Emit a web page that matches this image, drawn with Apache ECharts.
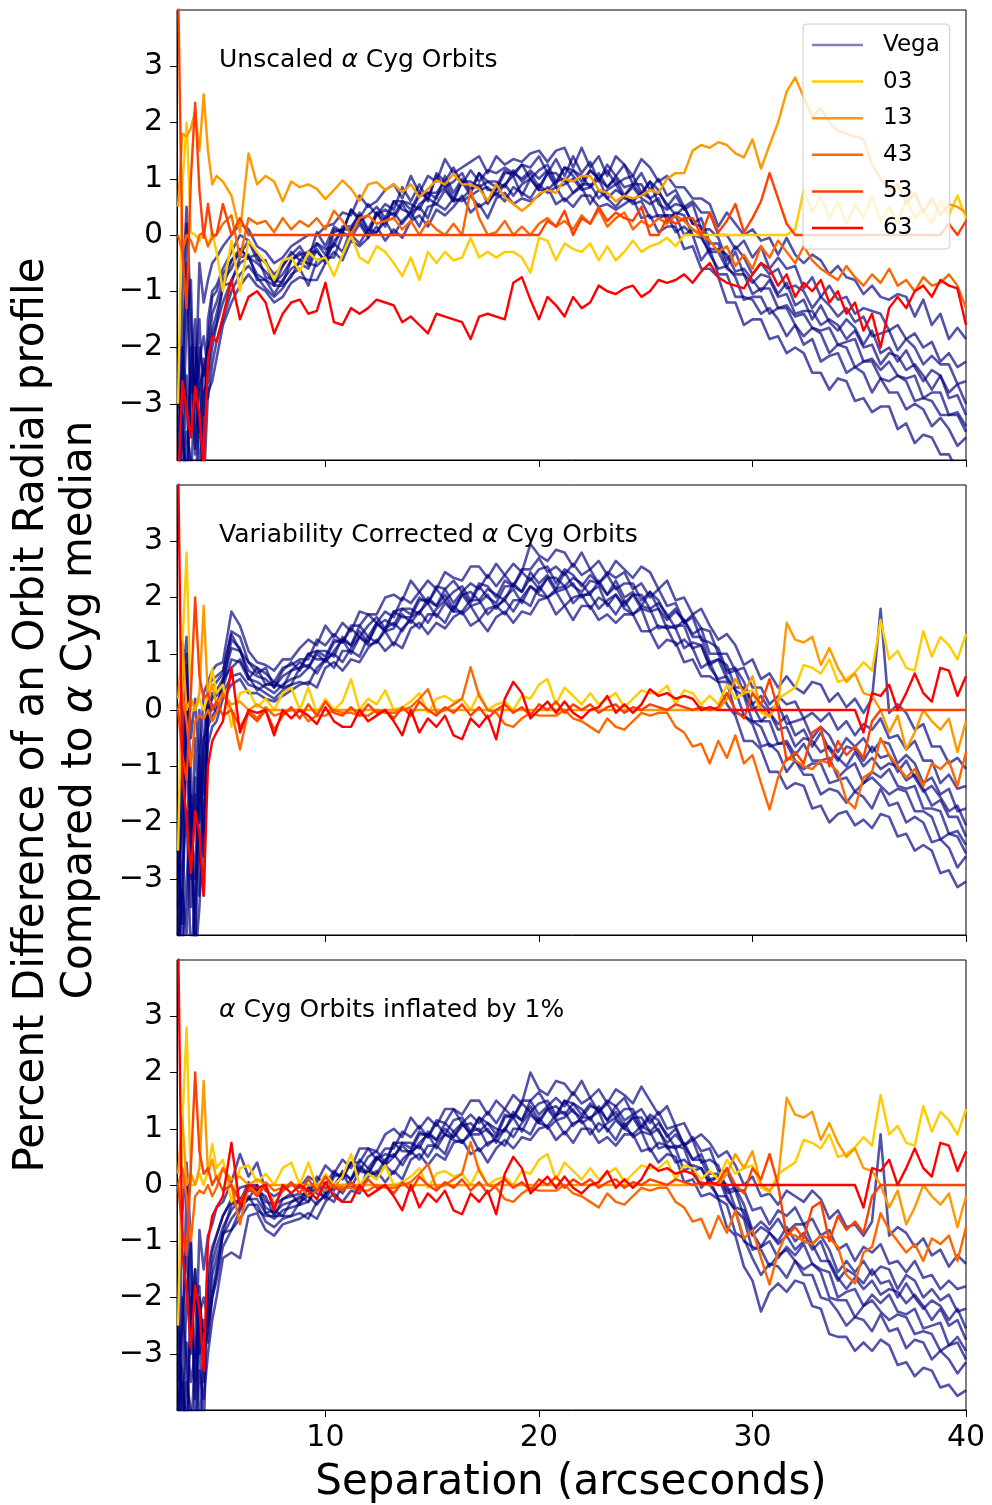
<!DOCTYPE html>
<html><head><meta charset="utf-8">
<script src="https://cdn.jsdelivr.net/npm/echarts@6/dist/echarts.min.js"></script>
<style>html,body{margin:0;padding:0;background:#fff}#c{width:992px;height:1505px}</style>
</head><body><div id="c"></div>
<script>
// ---------------- DATA ----------------
const SEP = [3.1,3.3,3.5,3.7,3.9,4.1,4.3,4.5,4.7,4.9,
5.2,5.6,6.0,6.4,6.8,7.2,7.6,8.0,8.4,8.8,
9.2,9.6,10.0,10.4,10.8,11.2,11.6,12.0,12.4,12.8,
13.2,13.6,14.0,14.4,14.8,15.2,15.6,16.0,16.4,16.8,
17.2,17.6,18.0,18.4,18.8,19.2,19.6,20.0,20.4,20.8,
21.2,21.6,22.0,22.4,22.8,23.2,23.6,24.0,24.4,24.8,
25.2,25.6,26.0,26.4,26.8,27.2,27.6,28.0,28.4,28.8,
29.2,29.6,30.0,30.4,30.8,31.2,31.6,32.0,32.4,32.8,
33.2,33.6,34.0,34.4,34.8,35.2,35.6,36.0,36.4,36.8,
37.2,37.6,38.0,38.4,38.8,39.2,39.6,40.0];

const X_TICKS = [10,20,30,40];
const Y_TICKS = [-3,-2,-1,0,1,2,3];
const LEGEND_NAMES = ['Vega','03','13','43','53','63'];
const PANEL_TITLES = [['Unscaled ','α',' Cyg Orbits'],['Variability Corrected ','α',' Cyg Orbits'],['','α',' Cyg Orbits inflated by 1%']];

// Panel 1 (Unscaled) Vega orbits
const P1_VEGA_A = [-4.5,-1.0,0.5,-1.5,-3.0,-0.5,-1.2,-0.8,-0.5,-0.4,
-0.2,0.0,0.2,0.1,-0.2,-0.3,-0.5,-0.4,-0.2,-0.1,
0.0,0.0,0.15,0.2,0.4,0.35,0.7,0.5,0.6,0.8,
0.9,0.65,1.05,0.75,1.05,0.95,1.35,1.1,1.2,1.3,
1.4,1.1,1.4,1.25,1.35,1.3,1.45,1.5,1.3,1.5,
1.55,1.2,1.55,1.2,1.4,1.05,1.4,1.25,1.05,1.35,
1.2,0.95,1.05,0.85,0.85,0.65,0.65,0.55,0.15,0.4,
0.2,0.0,0.1,-0.1,-0.05,-0.35,-0.05,-0.35,-0.5,-0.35,
-0.45,-0.7,-0.55,-0.75,-0.8,-1.05,-0.9,-1.1,-1.15,-1.05,
-1.1,-1.45,-1.15,-1.6,-1.4,-1.85,-1.65,-1.85];
const P1_VEGA_B = [-3.5,-2.5,-0.5,-3.5,-2.0,-2.5,-3.8,-1.5,-1.0,-0.9,
-0.6,-0.3,0.0,-0.1,-0.35,-0.5,-0.7,-0.55,-0.35,-0.2,
-0.45,0.05,-0.2,0.15,0.05,0.45,0.3,0.55,0.35,0.55,
0.45,0.85,0.6,0.9,0.6,1.1,0.95,1.2,0.9,1.15,
0.95,1.15,1.1,1.2,1.1,1.25,1.2,1.4,1.1,1.35,
1.05,1.4,1.1,1.3,0.95,1.25,1.05,1.25,0.9,1.1,
0.8,1.0,0.7,0.8,0.5,0.6,0.4,0.4,0.0,0.0,
-0.25,-0.1,-0.4,-0.2,-0.6,-0.4,-0.6,-0.55,-0.95,-0.75,
-1.1,-0.9,-1.15,-1.1,-1.4,-1.3,-1.35,-1.4,-1.7,-1.6,
-1.85,-1.75,-2.0,-1.9,-2.25,-2.1,-2.35,-2.25];
const P1_VEGA_C = [-2.5,-3.8,-1.5,-0.8,-3.9,-2.0,-2.5,-2.2,-1.4,-1.2,
-0.8,-0.6,-0.25,-0.4,-0.5,-0.65,-0.85,-0.7,-0.45,-0.35,
-0.3,-0.3,-0.45,0.05,0.1,0.1,0.4,0.1,0.4,0.15,
0.6,0.45,0.4,0.7,0.75,0.65,1.05,0.75,1.0,0.75,
1.1,0.8,0.8,1.1,1.1,1.0,1.15,1.0,1.15,0.9,
1.2,1.05,0.85,1.15,1.0,0.85,1.05,0.85,0.9,0.7,
0.95,0.55,0.45,0.55,0.5,0.2,0.3,-0.15,-0.15,-0.55,
-0.3,-0.7,-0.85,-0.7,-0.75,-1.05,-0.85,-1.25,-1.15,-1.5,
-1.25,-1.55,-1.7,-1.5,-1.65,-1.95,-1.7,-2.1,-2.0,-2.25,
-2.05,-2.35,-2.6,-2.4,-2.5,-2.8,-2.65,-3.0];
const P1_VEGA_D = [-3.0,-3.2,-4.5,-2.5,-1.5,-4.5,-2.8,-2.6,-2.0,-1.6,
-1.2,-0.8,-0.5,-0.4,-0.7,-0.8,-1.05,-0.8,-0.6,-0.5,
-0.6,-0.25,-0.5,-0.1,0.05,-0.05,0.2,-0.05,0.4,0.25,
0.3,0.55,0.3,0.55,0.65,0.55,0.8,0.6,0.95,0.7,
0.8,0.85,0.7,0.9,1.05,0.7,1.0,0.8,1.1,0.85,
0.9,1.0,0.8,0.85,1.0,0.65,0.8,0.7,0.85,0.65,
0.55,0.65,0.25,0.4,0.35,0.0,-0.05,-0.3,-0.3,-0.6,
-0.7,-0.7,-1.05,-0.95,-0.95,-1.3,-1.25,-1.45,-1.4,-1.65,
-1.7,-1.65,-1.95,-1.9,-1.85,-2.25,-2.2,-2.4,-2.25,-2.5,
-2.55,-2.5,-2.9,-2.8,-2.8,-3.2,-3.15,-3.4];
const P1_VEGA_E = [-4.5,-2.0,-3.0,-4.5,-2.5,-3.5,-2.2,-2.9,-2.3,-1.9,
-1.5,-1.0,-0.7,-0.55,-0.75,-0.95,-1.1,-0.95,-0.7,-0.6,
-0.9,-0.45,-0.4,-0.4,0.0,0.0,-0.15,0.1,0.05,0.25,
0.0,0.25,0.4,0.15,0.5,0.55,0.45,0.65,0.6,0.7,
0.5,0.6,0.75,0.6,0.85,0.75,0.65,0.9,0.75,0.85,
0.6,0.75,0.85,0.55,0.8,0.65,0.5,0.7,0.55,0.6,
0.3,0.35,0.35,0.05,0.15,0.0,-0.45,-0.25,-0.7,-0.7,
-1.1,-1.1,-1.15,-1.4,-1.3,-1.5,-1.8,-1.6,-1.95,-1.85,
-2.25,-2.15,-2.1,-2.45,-2.35,-2.45,-2.8,-2.55,-2.8,-2.8,
-3.1,-3.0,-3.1,-3.4,-3.25,-3.45,-3.75,-3.6];
const P1_VEGA_F = [-4.5,-4.5,-3.5,-4.0,-4.5,-3.2,-4.5,-2.8,-2.6,-2.2,
-1.6,-1.2,-0.9,-0.7,-0.9,-1.0,-1.2,-1.1,-0.85,-0.75,
-0.8,-0.8,-0.5,-0.3,-0.45,-0.1,-0.2,-0.05,0.15,-0.1,
0.1,-0.05,0.25,0.35,0.15,0.45,0.35,0.5,0.7,0.4,
0.55,0.3,0.65,0.75,0.55,0.65,0.6,0.7,0.85,0.55,
0.65,0.5,0.7,0.7,0.5,0.55,0.45,0.55,0.65,0.3,
0.35,0.05,0.15,0.15,-0.25,-0.2,-0.6,-0.6,-0.75,-1.2,
-1.2,-1.6,-1.5,-1.5,-1.85,-1.8,-2.1,-2.0,-2.1,-2.45,
-2.45,-2.75,-2.55,-2.6,-2.95,-2.9,-3.15,-3.05,-3.05,-3.45,
-3.35,-3.7,-3.55,-3.6,-3.9,-3.9,-4.2,-4.1];
const P1_VEGA_G = [-4.0,-3.0,0.2,-2.8,-2.6,-1.5,-3.2,-1.9,-1.1,-1.0,
-0.7,-0.45,-0.35,-0.1,-0.45,-0.45,-0.9,-0.55,-0.3,-0.45,
-0.3,-0.15,-0.35,0.1,0.05,0.45,0.25,0.35,0.5,0.3,
0.6,0.6,0.45,0.75,0.65,1.05,0.85,0.95,1.1,0.8,
1.1,0.95,0.85,1.15,1.05,1.25,1.0,1.15,1.25,0.95,
1.2,1.15,0.95,1.15,1.0,1.15,0.9,1.0,1.05,0.75,
0.95,0.8,0.5,0.7,0.45,0.55,0.1,0.1,-0.05,-0.45,
-0.2,-0.4,-0.7,-0.5,-0.7,-0.6,-0.95,-0.9,-1.0,-1.3,
-1.1,-1.25,-1.45,-1.3,-1.55,-1.45,-1.8,-1.75,-1.7,-2.05,
-1.85,-2.0,-2.3,-2.15,-2.3,-2.3,-2.65,-2.6];
const P1_VEGA_H = [-2.0,-4.5,-2.5,-3.5,-3.0,-2.2,-1.8,-2.4,-1.7,-1.4,
-0.95,-0.45,-0.25,-0.4,-0.35,-0.75,-0.8,-0.85,-0.45,-0.3,
-0.55,-0.15,-0.25,-0.2,0.15,0.15,0.35,0.05,0.35,0.45,
0.35,0.6,0.55,0.45,0.75,0.75,0.95,0.65,0.95,0.95,
0.85,0.95,0.95,0.85,1.15,0.95,1.1,0.85,1.1,1.1,
0.95,1.15,1.05,0.85,1.1,0.85,1.0,0.7,0.9,0.9,
0.65,0.75,0.55,0.35,0.5,0.2,0.15,-0.25,-0.25,-0.35,
-0.65,-0.6,-0.8,-1.0,-0.8,-1.1,-1.05,-1.4,-1.35,-1.35,
-1.6,-1.5,-1.6,-1.85,-1.7,-2.0,-1.95,-2.3,-2.1,-2.15,
-2.4,-2.3,-2.5,-2.75,-2.5,-2.9,-2.85,-3.2];
const P1_VEGA_I = [-4.5,-3.5,-4.5,-2.0,-3.8,-2.7,-2.4,-2.0,-1.8,-1.6,
-0.9,-0.85,-0.4,-0.35,-0.8,-0.8,-0.9,-0.9,-0.75,-0.45,
-0.5,-0.55,-0.4,-0.15,-0.3,0.1,0.25,0.0,0.05,0.3,
0.4,0.2,0.4,0.5,0.3,0.7,0.85,0.6,0.65,0.8,
0.9,0.55,0.8,0.9,0.7,0.9,1.0,0.8,0.8,0.95,
1.0,0.75,0.9,0.9,0.65,0.8,0.9,0.65,0.6,0.75,
0.65,0.3,0.35,0.35,0.0,0.1,0.0,-0.35,-0.6,-0.55,
-0.75,-1.15,-1.1,-1.1,-1.4,-1.3,-1.3,-1.6,-1.8,-1.65,
-1.75,-2.1,-1.95,-2.0,-2.35,-2.25,-2.25,-2.55,-2.6,-2.5,
-2.6,-2.95,-2.9,-2.95,-3.2,-3.2,-3.2,-3.5];

// Panel 1 alpha Cyg orbits
const P1_S03 = [-3.0,0.9,2.0,0.05,0.0,-0.1,0.05,-0.2,0.05,-0.3,
-1.0,-0.1,-1.0,-0.1,-0.3,-0.5,-0.8,-0.45,-0.4,-0.65,
-0.3,-0.45,-0.4,-0.73,-0.35,0.0,-0.4,-0.5,-0.2,-0.3,
-0.5,-0.73,-0.4,-0.8,-0.3,-0.5,-0.3,-0.45,-0.4,-0.05,
-0.4,-0.3,-0.4,-0.3,-0.3,-0.4,-0.67,-0.05,-0.1,-0.45,
-0.15,-0.25,-0.3,-0.15,-0.45,-0.2,-0.45,-0.3,-0.1,-0.3,
-0.2,-0.15,-0.05,-0.2,0,0,0,0,0,0,
0,0,0,0,0,0,0,0.1,0.8,0.4,
0.7,0.3,0.6,0.2,0.55,0.3,0.7,0.25,0.5,0.2,
0.65,0.3,0.45,0.2,0.6,0.35,0.7,0.3];
const P1_S13 = [0.5,1.8,1.75,1.9,2.2,1.5,2.5,1.5,0.9,1.05,
0.95,0.7,0.05,1.45,0.9,1.05,0.95,0.6,0.95,0.85,
0.9,0.82,0.64,0.8,0.97,0.82,0.61,0.9,0.94,0.8,
0.9,0.76,0.9,0.67,0.82,0.97,0.9,1.09,0.9,0.9,
0.82,0.61,0.9,0.67,0.55,0.43,0.55,0.73,0.8,0.75,
1.0,0.95,1.05,1.05,0.8,0.75,0.6,0.7,0.65,0.7,
0.8,0.75,1.0,1.1,1.1,1.5,1.6,1.55,1.65,1.6,
1.45,1.38,1.7,1.18,1.6,2.0,2.55,2.8,2.45,2.1,
2.25,2.0,1.85,1.8,1.75,1.7,1.25,1.0,0.8,0.9,
0.55,0.75,0.4,0.65,0.35,0.55,0.5,0.4];
const P1_S43 = [0.0,-0.3,0.0,-0.1,-0.3,0.0,0.05,-0.2,-0.05,0.0,
0.2,0.35,-0.4,0.3,0.2,0.25,0.05,0.3,0.1,0.25,
0.15,0.3,0.1,0.43,0.25,0.0,0.3,0.35,0.2,0.25,
0.3,0.1,0.25,0.0,0.25,0.1,0.0,0.2,0.0,0.8,
0.3,0.0,0.05,0.25,0.0,0.15,0.0,0.2,0.3,0.15,
0.25,0.1,0.35,0.2,0.45,0.15,0.3,0.4,0.1,0.25,
0.15,0.3,0.2,0.35,0.25,0.1,0.0,-0.1,-0.3,-0.2,
-0.55,-0.35,-0.6,-0.2,-0.4,-0.1,-0.3,-0.5,-0.2,-0.45,
-0.6,-0.7,-0.8,-0.55,-0.75,-0.9,-0.7,-0.85,-0.6,-0.9,
-0.8,-1.0,-0.75,-0.9,-0.85,-0.7,-0.9,-1.3];
const P1_S53 = [4.5,-0.3,-1.3,1.0,2.35,0.8,-0.05,0.55,0.0,0.0,
0.55,0.0,0.3,0,0,0,0,0,0,0,
0,0,0,0,0,0,0,0,0,0,
0,0,0,0,0,0,0,0,0,0,
0,0,0,0,0,0,0,0,0.25,0.15,
0.43,0.0,0.3,0.2,0.5,0.25,0.4,0.3,0.25,0.5,
0.0,0.0,0.3,0.2,0.3,0.3,0.0,0.4,0.05,0.25,
0.55,0.05,0.3,0.6,1.1,0.65,0.2,0,0,0,
0,0,0,0,0,0,0,0,0,0,
0,0,0,0,0,0.2,0,0.25];
const P1_S63 = [-4.5,-2.6,-3.1,-3.6,-2.7,-3.2,-4.1,-2.2,-1.8,-1.9,
-1.45,-0.8,-1.5,-1.1,-1.0,-1.2,-1.75,-1.4,-1.2,-1.15,
-1.4,-1.35,-0.85,-1.55,-1.6,-1.3,-1.4,-1.3,-1.15,-1.2,
-1.25,-1.55,-1.45,-1.6,-1.75,-1.4,-1.45,-1.5,-1.55,-1.85,
-1.45,-1.4,-1.45,-1.5,-0.85,-0.75,-1.15,-1.5,-1.1,-1.25,
-1.45,-1.1,-1.3,-1.2,-0.9,-1.0,-1.05,-0.95,-0.9,-1.1,
-1.0,-0.8,-0.85,-0.8,-0.7,-0.85,-0.65,-0.5,-0.75,-0.85,
-0.9,-0.95,-0.7,-0.5,-0.6,-0.9,-0.7,-1.1,-0.85,-1.0,
-0.8,-1.2,-1.0,-1.4,-1.2,-1.7,-1.4,-2.0,-1.3,-1.1,
-1.3,-1.0,-0.9,-1.1,-0.8,-0.9,-0.95,-1.6];

// Panel 2 (Variability corrected) Vega orbits
const P2_VEGA_A = [-4.5,0.5,1.3,-0.5,0.2,-1.0,0.3,0.5,0.7,0.8,
0.85,1.75,1.5,1.05,0.85,0.8,0.7,0.9,0.9,1.1,
1.25,1.15,1.5,1.3,1.55,1.4,1.75,1.7,1.7,2.0,
2.05,1.95,2.3,2.1,2.3,2.15,2.45,2.35,2.3,2.55,
2.55,2.35,2.6,2.4,2.6,2.45,2.95,2.75,2.65,2.85,
2.8,2.55,2.8,2.5,2.65,2.4,2.65,2.5,2.35,2.55,
2.45,2.15,2.3,1.95,2.0,1.7,1.8,1.5,1.25,1.35,
1.15,0.8,0.9,0.55,0.65,0.4,0.6,0.4,0.3,0.5,
0.45,0.15,0.3,0.05,0.2,-0.05,0.2,1.8,-0.05,0.1,
-0.05,-0.35,-0.25,-0.65,-0.65,-0.95,-0.85,-1.05];
const P2_VEGA_B = [-3.5,-1.0,1.0,-2.5,-1.5,-3.3,-0.5,0.3,0.4,0.5,
0.65,1.4,1.3,0.85,0.75,0.65,0.5,0.75,0.8,0.9,
0.9,1.25,1.15,1.35,1.2,1.5,1.5,1.7,1.55,1.75,
1.65,2.0,1.9,2.1,1.9,2.2,2.15,2.3,2.1,2.25,
2.15,2.4,2.2,2.4,2.2,2.5,2.5,2.7,2.45,2.55,
2.4,2.6,2.4,2.5,2.25,2.45,2.35,2.45,2.15,2.25,
2.0,2.15,1.85,1.9,1.55,1.7,1.45,1.4,1.0,1.0,
0.7,0.75,0.4,0.4,0.1,0.25,0.1,0.15,-0.15,-0.05,
-0.2,-0.05,-0.35,-0.2,-0.45,-0.25,-0.35,-0.15,-0.5,-0.45,
-0.7,-0.55,-0.9,-0.9,-1.3,-1.15,-1.4,-1.35];
const P2_VEGA_C = [-2.5,-3.8,0.2,-1.0,-4.5,0.0,-1.5,0.0,0.2,0.35,
0.55,1.1,1.05,0.7,0.6,0.55,0.4,0.6,0.7,0.75,
1.0,0.9,0.9,1.2,1.25,1.15,1.5,1.3,1.55,1.4,
1.75,1.65,1.65,1.95,1.95,1.85,2.15,1.9,2.1,1.9,
2.2,2.0,1.9,2.2,2.2,2.1,2.45,2.25,2.4,2.15,
2.45,2.2,2.1,2.3,2.25,2.05,2.3,2.0,2.1,1.85,
2.1,1.8,1.6,1.75,1.6,1.35,1.45,1.0,1.0,0.65,
0.7,0.3,0.0,0.1,-0.05,-0.25,-0.1,-0.45,-0.35,-0.65,
-0.4,-0.7,-0.9,-0.65,-0.7,-0.9,-0.65,-0.85,-0.8,-1.1,
-0.9,-1.2,-1.45,-1.35,-1.55,-1.8,-1.7,-2.05];
const P2_VEGA_D = [-3.0,-2.0,-0.5,-3.5,-1.2,-2.5,-3.3,0.2,0.0,0.1,
0.4,0.9,0.85,0.55,0.5,0.4,0.3,0.45,0.55,0.6,
0.75,1.0,0.85,1.05,1.25,1.0,1.3,1.2,1.55,1.4,
1.45,1.7,1.55,1.75,1.9,1.65,1.9,1.75,2.05,1.85,
1.9,2.05,1.8,2.0,2.15,1.9,2.2,2.1,2.35,2.1,
2.15,2.25,2.0,2.1,2.2,1.85,2.05,1.85,2.05,1.8,
1.75,1.8,1.45,1.5,1.5,1.1,1.15,0.8,0.9,0.55,
0.35,0.25,-0.2,-0.2,-0.2,-0.6,-0.55,-0.8,-0.6,-0.9,
-0.9,-0.85,-1.2,-1.05,-0.95,-1.3,-1.1,-1.2,-1.05,-1.35,
-1.4,-1.35,-1.75,-1.75,-1.8,-2.2,-2.15,-2.4];
const P2_VEGA_E = [-4.5,-2.8,-1.8,-4.5,-3.3,-1.5,-0.5,-0.3,-0.1,0.0,
0.3,0.6,0.65,0.45,0.4,0.3,0.2,0.35,0.45,0.5,
0.45,0.75,0.9,0.75,1.05,1.05,0.95,1.3,1.2,1.4,
1.15,1.45,1.6,1.45,1.7,1.7,1.55,1.85,1.7,1.85,
1.6,1.8,1.85,1.7,1.95,1.95,1.85,2.2,2.0,2.1,
1.85,2.0,2.05,1.8,2.0,1.9,1.7,1.95,1.7,1.8,
1.4,1.5,1.45,1.15,1.25,1.1,0.75,0.85,0.5,0.5,
-0.05,-0.1,-0.25,-0.65,-0.6,-0.75,-1.1,-0.9,-1.15,-1.15,
-1.5,-1.4,-1.45,-1.65,-1.45,-1.55,-1.75,-1.4,-1.7,-1.65,
-2.0,-1.9,-2.0,-2.35,-2.3,-2.45,-2.8,-2.6];
const P2_VEGA_F = [-4.5,-4.5,-3.0,-2.0,-4.5,-3.5,-1.8,-0.6,-0.3,-0.2,
0.2,0.45,0.55,0.3,0.3,0.2,0.15,0.25,0.35,0.45,
0.5,0.4,0.75,0.85,0.7,0.9,0.85,1.1,1.25,1.05,
1.2,1.1,1.45,1.55,1.35,1.55,1.45,1.65,1.75,1.5,
1.6,1.4,1.65,1.75,1.55,1.75,1.7,1.95,2.0,1.7,
1.85,1.6,1.85,1.85,1.6,1.7,1.55,1.7,1.7,1.4,
1.4,1.1,1.25,1.2,0.85,0.9,0.6,0.6,0.5,0.1,
-0.1,-0.55,-0.55,-0.7,-1.1,-1.1,-1.4,-1.3,-1.35,-1.75,
-1.7,-2.0,-1.85,-1.8,-2.05,-1.95,-2.1,-1.85,-1.9,-2.25,
-2.2,-2.5,-2.4,-2.5,-2.9,-2.85,-3.15,-3.05];
const P2_VEGA_G = [-4.0,-2.0,0.8,-3.0,-0.5,-2.0,-1.0,0.4,0.55,0.6,
0.7,1.35,1.05,0.85,0.65,0.75,0.4,0.7,0.85,0.7,
1.0,1.05,0.95,1.25,1.2,1.45,1.3,1.5,1.65,1.45,
1.75,1.8,1.7,2.0,1.9,2.15,1.95,2.1,2.2,1.95,
2.25,2.2,2.0,2.3,2.2,2.45,2.3,2.5,2.55,2.25,
2.5,2.4,2.2,2.4,2.25,2.4,2.15,2.25,2.25,1.95,
2.1,1.95,1.65,1.8,1.55,1.65,1.25,1.2,1.1,0.7,
0.75,0.5,0.1,0.25,0.0,0.1,-0.25,-0.2,-0.15,-0.5,
-0.3,-0.45,-0.75,-0.5,-0.65,-0.5,-0.75,-0.55,-0.6,-0.95,
-0.8,-0.95,-1.3,-1.2,-1.5,-1.4,-1.8,-1.75];
const P2_VEGA_H = [-2.0,-4.5,0.6,-2.0,-3.0,-0.8,-2.2,-0.1,0.3,0.25,
0.45,1.25,1.1,0.55,0.75,0.45,0.5,0.4,0.7,0.85,
0.75,1.05,1.05,0.95,1.3,1.15,1.4,1.2,1.5,1.6,
1.5,1.8,1.8,1.7,2.0,1.85,2.05,1.8,2.05,2.1,
1.95,2.15,2.05,1.95,2.25,2.1,2.35,2.15,2.35,2.35,
2.2,2.35,2.25,2.05,2.3,2.05,2.2,1.9,2.05,2.05,
1.8,1.9,1.7,1.45,1.6,1.3,1.3,0.85,0.9,0.8,
0.4,0.4,0.1,-0.2,-0.05,-0.35,-0.3,-0.65,-0.5,-0.55,
-0.75,-0.65,-0.85,-1.0,-0.75,-1.0,-0.85,-1.05,-0.95,-1.0,
-1.25,-1.15,-1.4,-1.7,-1.6,-1.9,-1.9,-2.25];
const P2_VEGA_I = [-4.5,-3.2,-4.0,-1.5,-4.5,-1.0,-2.6,-0.2,0.1,-0.05,
0.55,0.75,0.9,0.6,0.35,0.45,0.45,0.4,0.45,0.75,
0.8,0.65,0.9,1.0,0.85,1.1,1.3,1.15,1.2,1.45,
1.55,1.4,1.65,1.75,1.55,1.8,1.95,1.75,1.75,1.95,
1.95,1.7,1.85,1.95,1.75,2.0,2.2,2.05,2.0,2.15,
2.2,1.9,2.05,2.05,1.8,1.95,2.05,1.8,1.7,1.85,
1.8,1.45,1.5,1.45,1.1,1.2,1.15,0.75,0.55,0.6,
0.35,-0.1,-0.2,-0.3,-0.65,-0.6,-0.6,-0.9,-1.05,-0.95,
-0.95,-1.3,-1.25,-1.2,-1.45,-1.3,-1.2,-1.35,-1.5,-1.4,
-1.45,-1.8,-1.8,-1.9,-2.3,-2.2,-2.25,-2.55];

// Panel 3 (inflated by 1%) Vega orbits
const P3_VEGA_A = [-4.5,-0.5,0.4,-1.0,-3.5,-0.8,-1.5,-0.9,-0.7,-0.4,
-0.3,0.05,0.55,0.15,0.4,-0.1,-0.2,-0.1,0.0,-0.05,
0.15,0.05,0.35,0.2,0.45,0.3,0.65,0.65,0.6,0.9,
1.0,0.85,1.2,1.0,1.2,1.05,1.35,1.35,1.25,1.5,
1.5,1.25,1.5,1.35,1.6,1.45,2.0,1.7,1.6,1.85,
1.8,1.6,1.85,1.55,1.7,1.45,1.7,1.6,1.45,1.75,
1.5,1.25,1.4,1.05,1.1,0.8,0.9,0.75,0.5,0.6,
0.35,0.0,0.15,-0.2,-0.15,-0.35,-0.1,-0.2,-0.3,-0.1,
-0.25,-0.6,-0.45,-0.75,-0.7,-0.9,-0.65,0.9,-0.9,-0.75,
-0.85,-1.1,-0.95,-1.25,-1.15,-1.45,-1.25,-1.4];
const P3_VEGA_B = [-3.5,-2.5,-1.0,-3.0,-1.5,-2.8,-4.5,-1.5,-1.1,-0.9,
-0.55,-0.25,-0.05,0.0,0.0,-0.3,-0.35,-0.25,-0.2,-0.15,
-0.2,0.15,0.0,0.25,0.1,0.4,0.4,0.65,0.45,0.65,
0.65,0.95,0.85,1.05,0.85,1.15,1.1,1.35,1.1,1.25,
1.1,1.3,1.1,1.35,1.2,1.5,1.5,1.65,1.4,1.55,
1.4,1.65,1.45,1.55,1.3,1.5,1.4,1.55,1.25,1.35,
1.1,1.3,1.0,1.05,0.7,0.85,0.6,0.65,0.25,0.25,
-0.1,-0.1,-0.45,-0.4,-0.7,-0.45,-0.55,-0.4,-0.7,-0.6,
-0.9,-0.8,-1.15,-1.05,-1.35,-1.1,-1.2,-1.05,-1.4,-1.35,
-1.55,-1.35,-1.65,-1.6,-1.85,-1.7,-1.85,-1.8];
const P3_VEGA_C = [-2.5,-4.0,-2.0,-1.0,-4.5,-2.0,-2.8,-2.2,-1.4,-1.1,
-0.75,-0.45,-0.25,-0.1,-0.1,-0.4,-0.5,-0.35,-0.3,-0.25,
-0.05,-0.15,-0.2,0.15,0.2,0.1,0.45,0.3,0.5,0.35,
0.75,0.6,0.6,0.9,0.9,0.8,1.1,0.95,1.1,0.9,
1.2,0.95,0.85,1.2,1.25,1.15,1.5,1.25,1.4,1.2,
1.5,1.3,1.2,1.4,1.35,1.15,1.4,1.15,1.25,1.0,
1.2,0.95,0.75,0.9,0.7,0.45,0.55,0.2,0.2,-0.15,
-0.1,-0.55,-0.9,-0.75,-0.85,-1.0,-0.75,-1.0,-0.85,-1.15,
-1.0,-1.4,-1.7,-1.5,-1.6,-1.75,-1.5,-1.75,-1.7,-2.0,
-1.75,-2.0,-2.2,-2.05,-2.15,-2.4,-2.2,-2.55];
const P3_VEGA_D = [-3.0,-3.3,-4.5,-2.2,-1.5,-4.5,-3.0,-2.6,-1.9,-1.5,
-0.9,-0.6,-0.4,-0.25,-0.25,-0.5,-0.6,-0.45,-0.4,-0.35,
-0.3,-0.05,-0.25,0.0,0.2,-0.05,0.25,0.2,0.5,0.35,
0.5,0.7,0.55,0.75,0.9,0.65,0.9,0.85,1.1,0.9,
0.9,1.0,0.75,1.0,1.2,0.95,1.25,1.1,1.35,1.15,
1.2,1.35,1.1,1.2,1.3,0.95,1.15,1.0,1.2,0.95,
0.9,1.0,0.65,0.7,0.65,0.25,0.3,0.05,0.15,-0.25,
-0.45,-0.6,-1.15,-1.1,-1.0,-1.3,-1.1,-1.25,-1.05,-1.4,
-1.5,-1.55,-2.0,-1.9,-1.85,-2.15,-1.95,-2.1,-1.95,-2.25,
-2.3,-2.2,-2.55,-2.5,-2.45,-2.85,-2.7,-2.95];
const P3_VEGA_E = [-4.5,-2.0,-3.2,-4.5,-3.0,-3.0,-2.4,-2.8,-2.0,-1.7,
-1.1,-0.8,-0.6,-0.35,-0.35,-0.65,-0.75,-0.6,-0.55,-0.5,
-0.6,-0.3,-0.2,-0.3,0.0,0.0,-0.1,0.3,0.15,0.35,
0.2,0.45,0.6,0.45,0.7,0.7,0.55,0.95,0.75,0.9,
0.6,0.75,0.8,0.7,1.0,1.0,0.9,1.2,1.0,1.15,
0.9,1.1,1.15,0.9,1.1,1.0,0.8,1.1,0.85,0.95,
0.6,0.75,0.7,0.4,0.45,0.3,-0.05,0.1,-0.25,-0.35,
-0.85,-0.95,-1.3,-1.6,-1.4,-1.45,-1.65,-1.35,-1.6,-1.6,
-2.0,-2.05,-2.25,-2.5,-2.35,-2.4,-2.6,-2.3,-2.6,-2.55,
-2.9,-2.75,-2.8,-3.1,-2.95,-3.1,-3.35,-3.15];
const P3_VEGA_F = [-4.5,-4.5,-3.5,-4.0,-4.5,-3.3,-3.8,-3.0,-2.4,-2.0,
-1.3,-1.2,-1.3,-0.55,-0.5,-0.8,-0.9,-0.7,-0.65,-0.6,
-0.5,-0.6,-0.3,-0.15,-0.3,-0.1,-0.15,0.15,0.25,0.05,
0.25,0.1,0.45,0.55,0.35,0.55,0.45,0.75,0.8,0.55,
0.65,0.4,0.65,0.8,0.65,0.85,0.8,1.0,1.05,0.8,
0.95,0.75,1.0,1.0,0.75,0.85,0.7,0.9,0.9,0.6,
0.65,0.4,0.55,0.5,0.05,0.1,-0.2,-0.15,-0.25,-0.75,
-0.9,-1.45,-1.7,-2.25,-1.9,-1.75,-1.9,-1.7,-1.75,-2.15,
-2.2,-2.65,-2.7,-2.7,-2.95,-2.8,-2.95,-2.75,-2.85,-3.2,
-3.15,-3.4,-3.25,-3.3,-3.6,-3.55,-3.75,-3.65];
const P3_VEGA_G = [-4.0,-3.0,0.0,-2.5,-2.0,-1.8,-3.5,-1.8,-1.2,-0.9,
-0.55,-0.3,-0.3,0.05,-0.1,-0.2,-0.55,-0.25,-0.15,-0.35,
-0.05,0.0,-0.15,0.2,0.15,0.4,0.25,0.5,0.6,0.4,
0.75,0.75,0.65,0.95,0.85,1.1,0.9,1.15,1.2,0.95,
1.2,1.1,0.9,1.25,1.2,1.45,1.3,1.45,1.5,1.25,
1.5,1.45,1.25,1.45,1.3,1.45,1.2,1.35,1.35,1.05,
1.25,1.15,0.85,1.0,0.7,0.8,0.4,0.45,0.35,-0.1,
-0.05,-0.35,-0.8,-0.65,-0.8,-0.6,-0.85,-0.7,-0.7,-1.05,
-0.9,-1.15,-1.55,-1.35,-1.55,-1.35,-1.6,-1.45,-1.5,-1.85,
-1.6,-1.7,-2.0,-1.85,-2.05,-1.95,-2.25,-2.2];
const P3_VEGA_H = [-2.0,-4.5,-2.8,-3.5,-3.0,-2.3,-2.0,-2.4,-1.6,-1.3,
-0.85,-0.35,-0.25,-0.25,0.0,-0.5,-0.45,-0.55,-0.3,-0.2,
-0.3,0.0,-0.05,-0.1,0.25,0.1,0.35,0.2,0.45,0.55,
0.5,0.75,0.75,0.65,0.95,0.8,1.0,0.85,1.05,1.1,
0.95,1.1,1.0,0.95,1.3,1.15,1.4,1.15,1.35,1.4,
1.25,1.45,1.35,1.15,1.4,1.15,1.3,1.05,1.2,1.2,
0.95,1.1,0.9,0.65,0.75,0.45,0.45,0.1,0.15,0.0,
-0.4,-0.45,-0.85,-1.1,-0.85,-1.05,-0.9,-1.15,-1.0,-1.05,
-1.35,-1.35,-1.65,-1.85,-1.65,-1.85,-1.7,-1.95,-1.85,-1.9,
-2.1,-1.95,-2.15,-2.4,-2.2,-2.5,-2.4,-2.75];
const P3_VEGA_I = [-4.5,-3.5,-4.5,-2.0,-3.8,-2.5,-2.6,-2.5,-2.0,-1.6,
-0.85,-0.8,-0.45,-0.2,-0.45,-0.55,-0.55,-0.55,-0.55,-0.3,
-0.2,-0.35,-0.15,0.0,-0.15,0.1,0.3,0.2,0.2,0.45,
0.55,0.35,0.6,0.7,0.5,0.75,0.9,0.8,0.75,0.95,
1.0,0.7,0.85,1.0,0.85,1.1,1.3,1.1,1.05,1.25,
1.3,1.05,1.2,1.2,0.95,1.1,1.2,1.0,0.9,1.05,
0.95,0.65,0.7,0.65,0.25,0.35,0.3,0.0,-0.2,-0.2,
-0.45,-1.0,-1.1,-1.15,-1.45,-1.25,-1.15,-1.35,-1.5,-1.4,
-1.55,-2.0,-2.05,-2.05,-2.35,-2.15,-2.05,-2.25,-2.4,-2.3,
-2.35,-2.65,-2.6,-2.65,-2.95,-2.85,-2.8,-3.1];

// Panels 2 and 3 alpha Cyg orbits (same curves in both panels)
const P23_S03 = [-2.5,1.1,2.8,0.0,0.0,0.2,0.0,0.25,0.73,0.3,
0.45,-0.3,0.3,0.35,0.05,0.2,0.0,0.3,0.4,0.0,
0.4,-0.05,0.2,0.0,0.15,0.55,0.0,0.2,0.1,0.35,
0.0,0.05,0.15,0.3,-0.05,0.2,0.25,0.15,0.2,0.0,
0.3,0.0,0.1,0.15,0.0,0.25,0.2,0.45,0.55,0.1,
0.4,0.25,0.1,0.3,0.1,0.2,0.3,0.05,0.2,0.35,
0.3,0.3,0.43,0.1,0.35,0.3,0.1,0.25,0.1,0.45,
0.2,0.3,0.35,-0.05,-0.13,0.2,0.3,0.4,0.8,0.75,
0.65,0.9,0.5,0.55,0.67,0.85,0.7,1.6,0.9,1.05,
0.75,0.7,1.4,0.95,1.3,1.15,0.9,1.35];
const P23_S13 = [0.2,1.2,0.0,0.2,0.0,0.3,1.85,0.2,0.45,0.1,
0.3,0.1,0.15,0.0,0.1,0.0,0.0,0.0,0.0,0.0,
0,0,0,0,0,0,0,0,0,0,
0,0,0,0,0,0,0,0,0,0,
0,0,0,0,0,0,0,0,0,0,
0,0,0,0,0,0,0,0,0,0,
0,0,0,0,0,0,0,0,0,0.2,
0.55,0.3,0.6,0.0,-0.1,0.1,1.55,1.25,1.2,1.3,
0.8,1.1,0.75,0.5,0.65,0.3,0.25,0.0,-0.4,-0.1,
-0.7,-0.4,0.0,-0.2,-0.35,-0.15,-0.75,-0.2];
const P23_S43 = [0.0,0.3,-0.2,-1.0,-0.2,-0.1,-0.15,0.0,-0.2,-0.05,
0.3,0.0,-0.7,0.0,-0.15,0.05,-0.1,-0.05,0.0,0.0,
-0.2,-0.1,-0.1,0.0,-0.05,-0.05,-0.1,-0.1,0.0,-0.05,
-0.05,0.0,0.05,0.2,0.37,-0.05,0.0,0.1,0.2,0.76,
0.25,0.0,-0.05,-0.25,-0.3,-0.15,-0.05,-0.1,-0.1,-0.1,
0.0,-0.15,-0.2,-0.3,-0.4,-0.15,-0.3,-0.35,-0.2,-0.05,
-0.1,-0.05,-0.05,-0.3,-0.4,-0.65,-0.6,-0.95,-0.55,-0.85,
-0.45,-0.95,-0.8,-1.3,-1.77,-1.2,-0.85,-0.9,-1.0,-1.05,
-0.9,-0.95,-1.1,-1.6,-1.75,-1.2,-1.1,-0.5,-0.8,-1.0,
-1.2,-1.05,-1.35,-0.95,-1.05,-0.9,-1.35,-0.75];
const P23_S53 = [0.0,-0.8,-1.25,0.3,2.0,0.6,0.2,0.3,0.0,0.15,
-0.1,0.0,-0.3,-0.05,-0.2,0.0,-0.35,-0.1,0.05,-0.15,
0.1,-0.1,0.15,-0.05,-0.1,0.05,-0.1,0.1,-0.05,0.0,
-0.15,0.05,-0.1,0.15,0.0,-0.1,0.05,-0.05,0.1,-0.1,
0.05,-0.15,0.0,0.1,-0.05,0.05,-0.1,0.1,0.0,0.15,
-0.05,0.1,0.0,0.1,-0.05,0.05,0.1,-0.05,0.05,0.0,
0.1,0.05,0.0,0.1,0.05,0.0,0.05,0.0,0.05,0.3,
0.0,-0.15,0.3,0.1,0.55,0.0,-0.9,-0.75,-0.95,-0.4,
-0.3,-1.0,-0.55,-0.8,-0.65,-0.85,-0.2,0.0,0,0,
0,0,0,0,0,0,0,0];
const P23_S63 = [4.5,-1.2,-1.9,-2.9,-1.8,-2.2,-3.3,-1.0,-0.55,-0.4,
-0.2,0.75,-0.4,0.0,-0.05,0.0,-0.45,0.0,-0.15,0.0,
-0.1,-0.25,0.05,-0.2,-0.3,-0.3,0.0,-0.2,-0.1,0.0,
-0.2,-0.45,0.0,-0.4,-0.15,-0.3,-0.1,-0.45,-0.52,-0.15,
-0.3,-0.1,-0.52,0.2,0.5,0.3,-0.15,0.0,0.15,-0.05,
0.15,-0.05,-0.15,0.0,0.05,0.25,-0.05,0.1,-0.05,0.1,
0.37,0.25,0.3,0.2,0.25,0.2,0.0,0.05,0.0,0.0,
0,0,0,0,0,0,0,0,0,0,
0,0,0,0,0,-0.4,0.3,0.25,0.45,0.0,
0.3,0.65,0.3,0.15,0.75,0.7,0.25,0.6];

// ---------------- CHART ----------------
const FONT = '"DejaVu Sans", "Liberation Sans", sans-serif';
const VEGA_LINE = 'rgba(0,0,128,0.68)';
const VEGA_LEGEND = 'rgba(0,0,128,0.5)';
const COLORS = {'03':'#ffcc00','13':'#ff9900','43':'#ff6600','53':'#ff4000','63':'#ff0000'};
const GRID_TOPS = [10, 485, 960];
const PANEL_H = 450;

const panels = [
  {vega:[P1_VEGA_A,P1_VEGA_B,P1_VEGA_C,P1_VEGA_D,P1_VEGA_E,P1_VEGA_F,P1_VEGA_G,P1_VEGA_H,P1_VEGA_I],
   cyg:{'03':P1_S03,'13':P1_S13,'43':P1_S43,'53':P1_S53,'63':P1_S63}},
  {vega:[P2_VEGA_A,P2_VEGA_B,P2_VEGA_C,P2_VEGA_D,P2_VEGA_E,P2_VEGA_F,P2_VEGA_G,P2_VEGA_H,P2_VEGA_I],
   cyg:{'03':P23_S03,'13':P23_S13,'43':P23_S43,'53':P23_S53,'63':P23_S63}},
  {vega:[P3_VEGA_A,P3_VEGA_B,P3_VEGA_C,P3_VEGA_D,P3_VEGA_E,P3_VEGA_F,P3_VEGA_G,P3_VEGA_H,P3_VEGA_I],
   cyg:{'03':P23_S03,'13':P23_S13,'43':P23_S43,'53':P23_S53,'63':P23_S63}}
];

function lineSeries(name, arr, color, legendColor, gi, width){
  return {type:'line', name, xAxisIndex:gi, yAxisIndex:gi,
    data: SEP.map((x,i)=>[x, arr[i]]),
    symbol:'none', showSymbol:false, clip:true, silent:true, animation:false,
    lineStyle:{color:color, width:width, join:'round'}, itemStyle:{color:legendColor}};
}

const grids=[], xAxes=[], yAxes=[], series=[];
panels.forEach((p,gi)=>{
  grids.push({left:177, width:789, top:GRID_TOPS[gi], height:PANEL_H, show:true, borderColor:'#000', borderWidth:1, backgroundColor:'#fff'});
  xAxes.push({type:'value', gridIndex:gi, min:3.05, max:40,
    axisLine:{show:true, onZero:false, lineStyle:{color:'#000', width:1}},
    axisTick:{show:true, length:7, lineStyle:{color:'#000', width:1}, customValues:X_TICKS},
    axisLabel:{show: gi===2, customValues:X_TICKS, fontSize:30, color:'#000', fontFamily:FONT, margin:13},
    splitLine:{show:false}});
  yAxes.push({type:'value', gridIndex:gi, min:-4, max:4,
    axisLine:{show:true, onZero:false, lineStyle:{color:'#000', width:1}},
    axisTick:{show:true, length:7, lineStyle:{color:'#000', width:1}, customValues:Y_TICKS},
    axisLabel:{show:true, customValues:Y_TICKS, fontSize:30, color:'#000', fontFamily:FONT, margin:14, padding:[6,0,0,0],
      formatter:(v)=> v<0 ? '\u2212'+Math.abs(v) : String(v)},
    splitLine:{show:false}});
  p.vega.forEach(arr=>series.push(lineSeries('Vega', arr, VEGA_LINE, VEGA_LEGEND, gi, 2.6)));
  ['03','13','43','53','63'].forEach(k=>series.push(lineSeries(k, p.cyg[k], COLORS[k], COLORS[k], gi, 2.4)));
});

const richBase = {n:{fontSize:25, fontFamily:FONT, fill:'#000'}, a:{fontSize:25, fontFamily:FONT, fontStyle:'italic', fill:'#000'}};
const graphics = PANEL_TITLES.map((t,gi)=>({
  type:'text', x:219, y:GRID_TOPS[gi]+50, z:100,
  style:{text:(t[0]?'{n|'+t[0]+'}':'')+'{a|'+t[1]+'}{n|'+t[2]+'}', rich:richBase, verticalAlign:'middle', align:'left'}
}));
graphics.push({type:'text', x:32, y:715, rotation:Math.PI/2, z:100,
  style:{text:'Percent Difference of an Orbit Radial profile', font:'42px '+FONT, fill:'#000', align:'center', verticalAlign:'middle'}});
graphics.push({type:'text', x:80, y:710, rotation:Math.PI/2, z:100,
  style:{text:'{n|Compared to }{a|α}{n| Cyg median}',
    rich:{n:{fontSize:42, fontFamily:FONT, fill:'#000'}, a:{fontSize:42, fontFamily:FONT, fontStyle:'italic', fill:'#000'}},
    align:'center', verticalAlign:'middle'}});
graphics.push({type:'text', x:571, y:1483, z:100,
  style:{text:'Separation (arcseconds)', font:'42px '+FONT, fill:'#000', align:'center', verticalAlign:'middle'}});

const chart = echarts.init(document.getElementById('c'), null, {renderer:'canvas'});
chart.setOption({
  animation:false,
  backgroundColor:'#fff',
  grid:grids, xAxis:xAxes, yAxis:yAxes, series:series,
  legend:{data:LEGEND_NAMES, orient:'vertical', left:803, top:24, icon:'rect', itemWidth:51, itemHeight:2.5,
    itemGap:10.6, padding:[8,10,8,9], backgroundColor:'rgba(255,255,255,0.8)', borderColor:'#cccccc', borderWidth:1, borderRadius:4,
    selectedMode:false,
    textStyle:{fontSize:23, fontFamily:FONT, color:'#000', lineHeight:26, padding:[0,0,0,15]}},
  graphic:graphics
});
</script></body></html>
